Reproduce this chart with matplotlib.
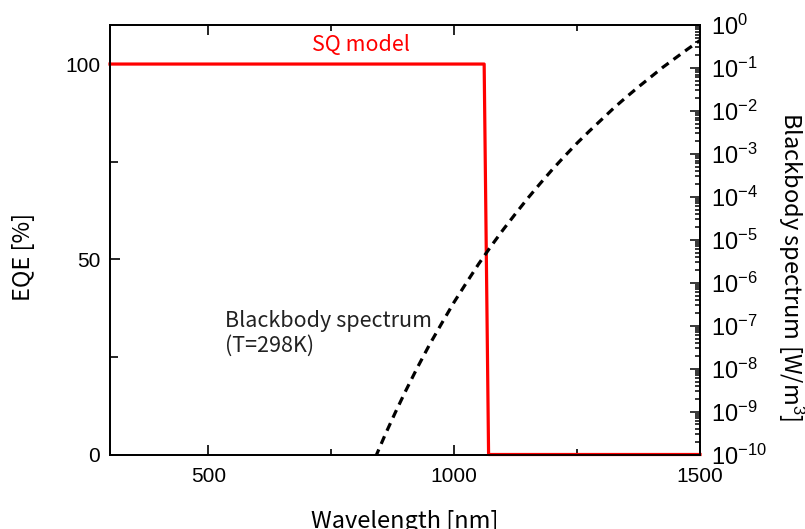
import numpy as np
import matplotlib
matplotlib.use('Agg')
import matplotlib.pyplot as plt
from matplotlib.ticker import MultipleLocator, LogLocator, NullFormatter

plt.rcParams['font.family'] = ['Liberation Sans', 'DejaVu Sans']
plt.rcParams['mathtext.fontset'] = 'custom'
plt.rcParams['mathtext.rm'] = 'Liberation Sans'
plt.rcParams['mathtext.it'] = 'Liberation Sans:italic'
plt.rcParams['mathtext.bf'] = 'Liberation Sans:bold'

# SQ model EQE (step at the band gap)
sq_wl = [300, 1061, 1070, 1500]
sq_eqe = [100, 100, 0, 0]

# blackbody spectrum at 298 K, log10 of W/m^3
bb_wl = [840, 860, 880, 900, 925, 950, 975, 1000, 1025, 1050, 1075, 1100,
         1125, 1150, 1175, 1200, 1225, 1250, 1275, 1300, 1325, 1350, 1375,
         1400, 1425, 1450, 1475, 1500]
bb_log = [-10.06, -9.53, -9.03, -8.55, -7.98, -7.44, -6.94, -6.45, -6.00,
          -5.56, -5.15, -4.76, -4.39, -4.03, -3.69, -3.36, -3.05, -2.75,
          -2.47, -2.20, -1.93, -1.68, -1.44, -1.21, -0.98, -0.77, -0.56,
          -0.36]

x_ticks = [500, 1000, 1500]
eqe_ticks = [0, 50, 100]
bb_exps = list(range(-10, 1))

label_font = ['Noto Sans CJK JP', 'DejaVu Sans']

fig = plt.figure(figsize=(8.05, 5.29), dpi=100)
ax = fig.add_axes([110 / 805, 1 - 454.5 / 529, 590 / 805, 429.5 / 529])
ax2 = ax.twinx()

ax.plot(sq_wl, sq_eqe, color='#ff0000', lw=2.3, clip_on=False, zorder=3)
ax2.plot(bb_wl, 10.0 ** np.array(bb_log), color='black', lw=2.3,
         dashes=(2.6, 1.9), zorder=2)

ax.set_xlim(300, 1500)
ax.set_ylim(0, 110)
ax2.set_ylim(1e-10, 1)
ax2.set_yscale('log')

ax.set_xticks(x_ticks)
ax.xaxis.set_minor_locator(MultipleLocator(250))
ax.set_yticks(eqe_ticks)
ax.yaxis.set_minor_locator(MultipleLocator(25))
ax.tick_params(axis='x', which='both', direction='in', top=True,
               labelsize=15, pad=9)
ax.tick_params(axis='x', which='major', length=7, width=1.2)
ax.tick_params(axis='x', which='minor', length=4, width=1.2)
ax.tick_params(axis='y', which='both', direction='in', right=False,
               labelsize=15, pad=7, length=6, width=1.2)
ax.tick_params(axis='y', which='major', length=7)

ax2.set_yticks([10.0 ** k for k in bb_exps])
ax2.set_yticklabels([r'$10^{%d}$' % k for k in bb_exps])
ax2.yaxis.set_minor_locator(LogLocator(base=10, subs=np.arange(2, 10), numticks=100))
ax2.yaxis.set_minor_formatter(NullFormatter())
ax2.tick_params(axis='y', which='both', direction='in', labelsize=17, pad=8, width=1.1)
ax2.tick_params(axis='y', which='major', length=7)
ax2.tick_params(axis='y', which='minor', length=3.5)

for a in (ax, ax2):
    for s in a.spines.values():
        s.set_linewidth(1.3)

ax.set_xlabel('Wavelength [nm]', fontsize=17, family=label_font)
ax.set_ylabel('EQE [%]', fontsize=17, family=label_font, va='center')
ax2.set_ylabel('Blackbody spectrum [W/m$^3$]', fontsize=17, family=label_font,
               rotation=-90, va='center', ha='center')
ax.xaxis.set_label_coords(0.5, -0.13)
ax.yaxis.set_label_coords(-0.146, 0.46)
ax2.yaxis.set_label_coords(1.154, 0.437)

ax.text(810, 105, 'SQ model', color='#ff0000', fontsize=15.5,
        family=label_font, ha='center', va='center')
ax.text(534, 31, 'Blackbody spectrum\n(T=298K)', color='#222222',
        fontsize=15.5, family=label_font, ha='left', va='center',
        linespacing=1.15)

fig.savefig('out.png', dpi=100)
